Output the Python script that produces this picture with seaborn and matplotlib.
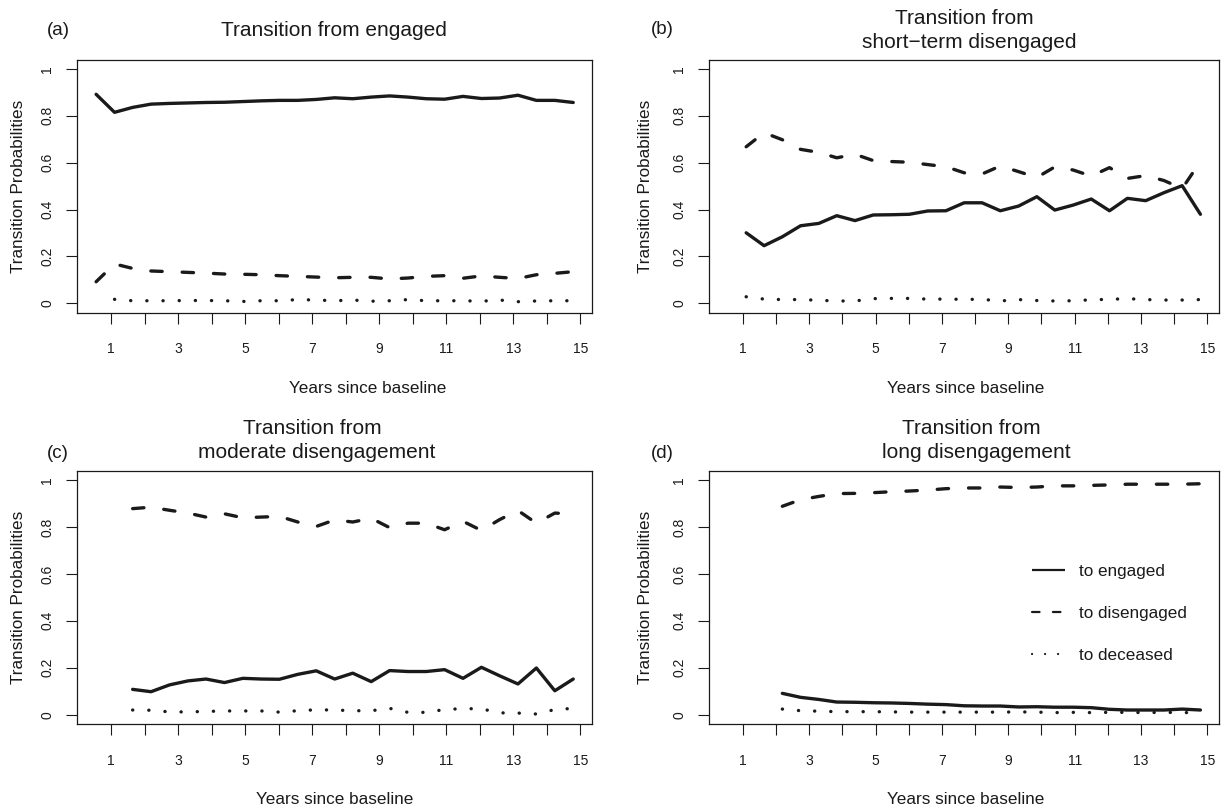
import matplotlib
matplotlib.use("Agg")
import matplotlib.pyplot as plt
import pandas as pd
import seaborn as sns
from matplotlib.lines import Line2D

# ---------------- data ----------------
years = [0.55, 1.10, 1.64, 2.19, 2.74, 3.29, 3.83, 4.38, 4.93, 5.48, 6.02, 6.57,
         7.12, 7.67, 8.21, 8.76, 9.31, 9.86, 10.40, 10.95, 11.50, 12.05, 12.59,
         13.14, 13.69, 14.24, 14.79]

series_names = ["to engaged", "to disengaged", "to deceased"]

# (a) from engaged
a_engaged = [0.892, 0.815, 0.836, 0.850, 0.853, 0.855, 0.857, 0.858, 0.861, 0.864,
             0.866, 0.866, 0.870, 0.877, 0.873, 0.880, 0.885, 0.880, 0.873, 0.871,
             0.883, 0.874, 0.876, 0.888, 0.866, 0.866, 0.857]
a_disengaged = [0.092, 0.168, 0.149, 0.138, 0.135, 0.132, 0.129, 0.125, 0.124, 0.122,
                0.118, 0.115, 0.112, 0.109, 0.111, 0.111, 0.104, 0.108, 0.115, 0.118,
                0.107, 0.117, 0.111, 0.106, 0.122, 0.128, 0.135]
a_deceased = [0.017, 0.011, 0.011, 0.011, 0.012, 0.012, 0.011, 0.008, 0.011, 0.011,
              0.016, 0.014, 0.011, 0.014, 0.009, 0.011, 0.016, 0.011, 0.011, 0.011,
              0.009, 0.014, 0.007, 0.010, 0.011, 0.011]

# (b) from short-term disengaged
b_engaged = [0.301, 0.246, 0.284, 0.331, 0.341, 0.374, 0.353, 0.377, 0.378, 0.380,
             0.394, 0.395, 0.429, 0.429, 0.395, 0.415, 0.455, 0.398, 0.419, 0.445,
             0.395, 0.448, 0.438, 0.472, 0.502, 0.380]
b_disengaged = [0.668, 0.728, 0.698, 0.657, 0.644, 0.621, 0.636, 0.609, 0.605, 0.602,
                0.592, 0.583, 0.557, 0.552, 0.586, 0.562, 0.537, 0.582, 0.569, 0.543,
                0.579, 0.533, 0.545, 0.524, 0.490, 0.605]
b_deceased = [0.028, 0.018, 0.016, 0.016, 0.013, 0.010, 0.010, 0.020, 0.021, 0.021,
              0.018, 0.018, 0.017, 0.017, 0.010, 0.016, 0.012, 0.010, 0.011, 0.015,
              0.017, 0.020, 0.016, 0.014, 0.014, 0.016]

# (c) from moderate disengagement
c_engaged = [0.108, 0.098, 0.127, 0.144, 0.152, 0.137, 0.155, 0.152, 0.151, 0.172,
             0.187, 0.152, 0.177, 0.141, 0.188, 0.184, 0.184, 0.192, 0.155, 0.202,
             0.166, 0.131, 0.199, 0.102, 0.152]
c_disengaged = [0.878, 0.884, 0.871, 0.859, 0.842, 0.856, 0.839, 0.842, 0.845, 0.821,
                0.802, 0.830, 0.821, 0.837, 0.797, 0.816, 0.816, 0.788, 0.824, 0.785,
                0.831, 0.870, 0.816, 0.859, 0.855]
c_deceased = [0.020, 0.019, 0.012, 0.012, 0.014, 0.016, 0.016, 0.016, 0.011, 0.017,
              0.021, 0.020, 0.017, 0.017, 0.027, 0.010, 0.010, 0.022, 0.026, 0.025,
              0.008, 0.007, 0.003, 0.022, 0.027]

# (d) from long disengagement
d_engaged = [0.091, 0.074, 0.065, 0.054, 0.053, 0.051, 0.050, 0.048, 0.045, 0.043,
             0.038, 0.037, 0.037, 0.033, 0.034, 0.032, 0.032, 0.030, 0.023, 0.020,
             0.020, 0.020, 0.024, 0.020]
d_disengaged = [0.888, 0.916, 0.930, 0.942, 0.943, 0.946, 0.950, 0.953, 0.957, 0.963,
                0.966, 0.966, 0.970, 0.968, 0.970, 0.975, 0.975, 0.977, 0.979, 0.982,
                0.982, 0.982, 0.982, 0.984]
d_deceased = [0.024, 0.017, 0.015, 0.013, 0.013, 0.013, 0.012, 0.011, 0.011, 0.011,
              0.011, 0.011, 0.011, 0.012, 0.011, 0.009, 0.010, 0.009, 0.010, 0.010,
              0.009, 0.010, 0.009, 0.009]

x_ticks = list(range(1, 16))
x_ticklabels = [str(t) if t % 2 == 1 else "" for t in x_ticks]
y_ticks = [0, 0.2, 0.4, 0.6, 0.8, 1.0]
y_ticklabels = ["0", "0.2", "0.4", "0.6", "0.8", "1"]

# ---------------- style ----------------
sns.set_style("white")
plt.rcParams["font.family"] = ["Liberation Sans", "DejaVu Sans"]
INK = "#1a1a1a"

W, H = 1228, 808
fig = plt.figure(figsize=(W / 100, H / 100), dpi=100)


def frac_box(left, right, top, bottom):
    return [left / W, 1 - bottom / H, (right - left) / W, (bottom - top) / H]


boxes = {
    "a": frac_box(77, 592, 59.6, 312.7),
    "b": frac_box(709, 1219, 59.6, 312.7),
    "c": frac_box(77, 592, 470.6, 724.1),
    "d": frac_box(709, 1219, 470.6, 724.1),
}

panels = {
    "a": (a_engaged, a_disengaged, a_deceased, 0, 1),
    "b": (b_engaged, b_disengaged, b_deceased, 1, 1),
    "c": (c_engaged, c_disengaged, c_deceased, 2, 2),
    "d": (d_engaged, d_disengaged, d_deceased, 3, 3),
}

dash_map = {"to engaged": "", "to disengaged": (3.4, 6.0), "to deceased": (0.05, 4.8)}

axes = {}
for key, (eng, dis, dec, start, dstart) in panels.items():
    ax = fig.add_axes(boxes[key])
    axes[key] = ax
    rows = []
    for yv, xv in zip(eng, years[start:]):
        rows.append((xv, yv, "to engaged"))
    for yv, xv in zip(dis, years[start:]):
        rows.append((xv, yv, "to disengaged"))
    for yv, xv in zip(dec, years[dstart:]):
        rows.append((xv, yv, "to deceased"))
    df = pd.DataFrame(rows, columns=["year", "prob", "transition"])
    sns.lineplot(data=df, x="year", y="prob", style="transition",
                 style_order=series_names, dashes=dash_map, color=INK,
                 linewidth=2.4, estimator=None, errorbar=None, sort=False,
                 legend=False, ax=ax, solid_capstyle="round",
                 dash_capstyle="round", solid_joinstyle="round",
                 dash_joinstyle="round")
    ax.set_xlim(-0.02, 15.35)
    ax.set_ylim(-0.04, 1.04)
    ax.set_xticks(x_ticks)
    ax.set_xticklabels(x_ticklabels)
    ax.set_yticks(y_ticks)
    ax.set_yticklabels(y_ticklabels, rotation=90, va="center", ha="center")
    ax.set_xlabel("")
    ax.set_ylabel("")
    ax.tick_params(axis="both", direction="out", length=7.8, width=0.8,
                   color=INK, labelcolor=INK, labelsize=10, pad=13.6,
                   bottom=True, left=True)
    for sp in ax.spines.values():
        sp.set_color(INK)
        sp.set_linewidth(0.9)


def ftext(x, y, s, **kw):
    fig.text(x / W, 1 - y / H, s, color=INK, **kw)


# panel letters
ftext(58, 30.3, "(a)", fontsize=13.5, ha="center", va="center")
ftext(662, 29.3, "(b)", fontsize=13.5, ha="center", va="center")
ftext(58, 453.3, "(c)", fontsize=13.5, ha="center", va="center")
ftext(662, 453.3, "(d)", fontsize=13.5, ha="center", va="center")

# titles
TS = 15
ftext(334, 36, "Transition from engaged", fontsize=TS, ha="center", va="baseline")
ftext(964, 23.5, "Transition from", fontsize=TS, ha="center", va="baseline")
ftext(969, 48.5, "short\u2212term disengaged", fontsize=TS, ha="center", va="baseline")
ftext(312, 434.5, "Transition from", fontsize=TS, ha="center", va="baseline")
ftext(317, 458.5, "moderate disengagement", fontsize=TS, ha="center", va="baseline")
ftext(971, 434.5, "Transition from", fontsize=TS, ha="center", va="baseline")
ftext(976, 458.5, "long disengagement", fontsize=TS, ha="center", va="baseline")

# axis labels
LS = 12.3
ftext(368, 393, "Years since baseline", fontsize=LS, ha="center", va="baseline")
ftext(966, 393, "Years since baseline", fontsize=LS, ha="center", va="baseline")
ftext(335, 804, "Years since baseline", fontsize=LS, ha="center", va="baseline")
ftext(966, 804, "Years since baseline", fontsize=LS, ha="center", va="baseline")
for xx, yy in [(18.4, 186), (646, 186), (18.4, 597), (646, 597)]:
    ftext(xx, yy, "Transition Probabilities", fontsize=LS, ha="center",
          va="center", rotation=90)

# legend in panel (d)
handles = [
    Line2D([], [], color=INK, lw=1.6, linestyle="-", solid_capstyle="butt"),
    Line2D([], [], color=INK, lw=1.6, linestyle=(0, (3.4, 6.0)), dash_capstyle="round"),
    Line2D([], [], color=INK, lw=1.6, linestyle=(0, (0.05, 5.8)), dash_capstyle="round"),
]
axes["d"].legend(handles, series_names, loc="upper left",
                 bbox_to_anchor=(0.633, 0.631), frameon=False, fontsize=LS,
                 handlelength=1.93, handletextpad=0.82, labelspacing=1.58,
                 borderpad=0, borderaxespad=0, labelcolor=INK)

fig.savefig("out.png", dpi=100)
